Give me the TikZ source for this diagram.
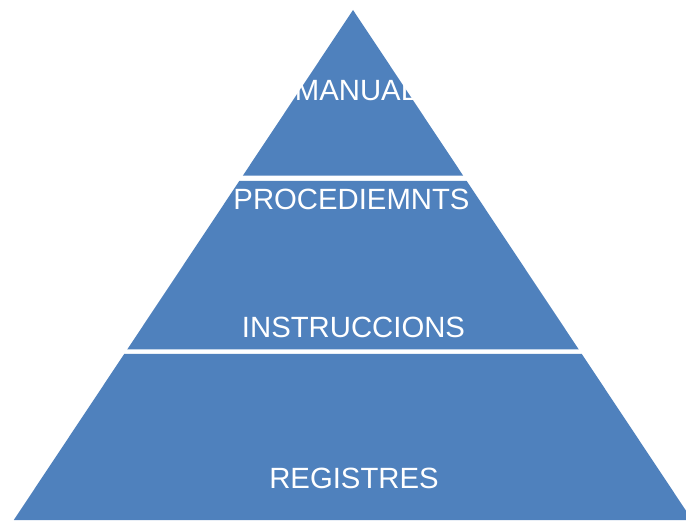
\documentclass[tikz,border=0pt]{standalone}
\usepackage{fontspec}
\setmainfont{Liberation Sans}
\usepackage{tikz}
\usetikzlibrary{positioning}

\definecolor{tierblue}{RGB}{79,129,189}
\tikzset{
	tier/.style={fill=tierblue, draw=none},
	tierlabel/.style={text=white, anchor=base, inner sep=0pt, font=\fontsize{29.3}{31}\selectfont}
}

\begin{document}
\begin{tikzpicture}[x=1pt, y=1pt]
		\useasboundingbox (0,0) rectangle (686,520);
		\fill[white] (0,0) rectangle (686,520);
		% tiers
		\path[tier] (353,510) -- (463.2,344.3) -- (242.8,344.3) -- cycle;
		\path[tier] (239.3,339) -- (466.7,339) -- (578.8,170.5) -- (127.2,170.5) -- cycle;
		\path[tier] (124.2,166) -- (581.8,166) -- (692.2,0) -- (13.8,0) -- cycle;
		% labels
		\node[tierlabel] (manual) at (356,419) {MANUAL};
		\node[tierlabel] (proc) at (351.5,310.5) {PROCEDIEMNTS};
		\node[tierlabel] (instr) at (353.5,182.5) {INSTRUCCIONS};
		\node[tierlabel] (regs) at (354,31.5) {REGISTRES};
	\end{tikzpicture}
\end{document}
